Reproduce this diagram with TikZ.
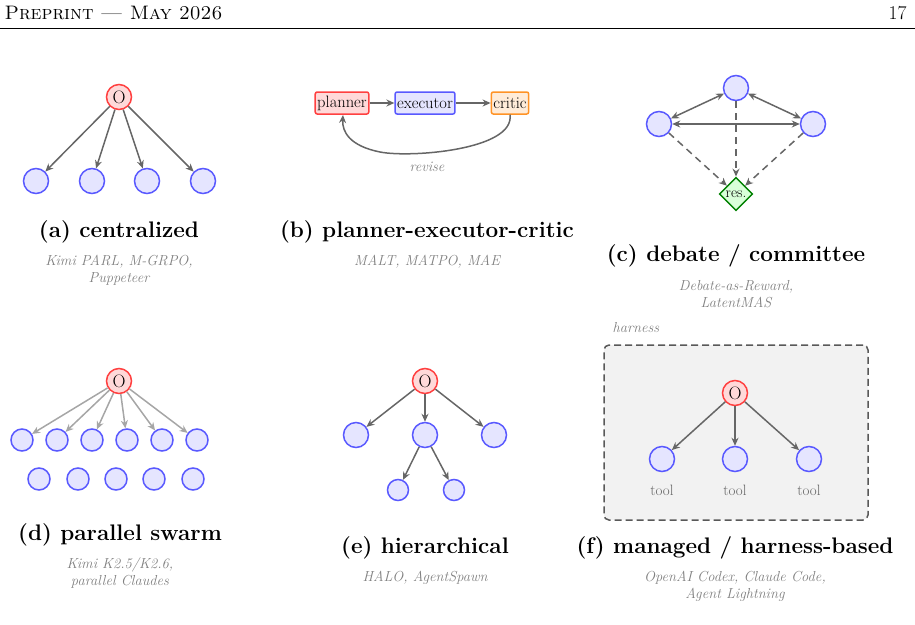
\documentclass[tikz,border=0pt]{standalone}
\usepackage{fontspec}
\usetikzlibrary{shapes.geometric,arrows.meta}
\begin{document}
\begin{tikzpicture}[x=1pt,y=-1pt,
  orch/.style={circle,draw=red!75,fill=red!15,line width=1.5pt,minimum size=25pt,inner sep=0pt,font=\fontsize{18}{18}\selectfont},
  agent/.style={circle,draw=blue!65,fill=blue!10,line width=1.5pt,minimum size=25pt,inner sep=0pt},
  sagent/.style={agent,minimum size=22pt},
  tagent/.style={agent,minimum size=21pt},
  arr/.style={-{Stealth[length=8pt,width=7pt]},draw=black!60,line width=1.5pt},
  larr/.style={arr,draw=black!35},
  box/.style={draw,rounded corners=2pt,line width=1.5pt,minimum height=22pt,inner sep=2pt,font=\fontsize{16.5}{16.5}\selectfont},
  captxt/.style={font=\fontsize{22.5}{22.5}\selectfont\bfseries},
  sub/.style={font=\fontsize{14.5}{17}\selectfont\itshape,text=black!50,align=center}]
\useasboundingbox (0,0) rectangle (915,624);
\node[anchor=west,font=\fontsize{19.5}{19.5}\selectfont\scshape] (hl) at (1,13) {Preprint --- May 2026};
\node[anchor=east,font=\fontsize{19.5}{19.5}\selectfont] (hr) at (910,13) {17};
\draw[line width=0.6pt] (0,28) -- (915,28);
% (a)
\node[orch] (ao) at (119,97) {O};
\foreach \x/\n in {36/1,92/2,147/3,203/4}{\node[agent] (a\n) at (\x,181) {}; \draw[arr] (ao) -- (a\n);}
\node[captxt] (acap) at (119,232) {(a) centralized};
\node[sub] (asub) at (119,270) {Kimi PARL, M-GRPO,\\Puppeteer};
% (b)
\node[box,draw=red!75,fill=red!15] (pl) at (342,103) {planner};
\node[box,draw=blue!65,fill=blue!10] (ex) at (425,103) {executor};
\node[box,draw=orange!85,fill=orange!15] (cr) at (510,103) {critic};
\draw[arr] (pl) -- (ex);
\draw[arr] (ex) -- (cr);
\draw[arr] (cr.south) .. controls (515,150) and (410,158) .. (380,152) .. controls (350,146) and (342,132) .. (343,115);
\node[sub] (rev) at (427,167) {revise};
\node[captxt] (bcap) at (427,232) {(b) planner-executor-critic};
\node[sub] (bsub) at (427,262) {MALT, MATPO, MAE};
% (c)
\node[agent] (ct) at (736,88) {};
\node[agent] (cl) at (659,124) {};
\node[agent] (cr2) at (813,124) {};
\node[diamond,draw=green!50!black,fill=green!15,line width=1.5pt,inner sep=1.5pt,font=\fontsize{15}{15}\selectfont] (res) at (736,194) {res.};
\draw[arr,{Stealth[length=8pt,width=7pt]}-{Stealth[length=8pt,width=7pt]}] (cl) -- (ct);
\draw[arr,{Stealth[length=8pt,width=7pt]}-{Stealth[length=8pt,width=7pt]}] (ct) -- (cr2);
\draw[arr,{Stealth[length=8pt,width=7pt]}-{Stealth[length=8pt,width=7pt]}] (cl) -- (cr2);
\draw[arr,dashed,dash pattern=on 7pt off 5pt] (cl) -- (res);
\draw[arr,dashed,dash pattern=on 7pt off 5pt] (ct) -- (res);
\draw[arr,dashed,dash pattern=on 7pt off 5pt] (cr2) -- (res);
\node[captxt] (ccap) at (736,256) {(c) debate / committee};
\node[sub] (csub) at (736,294) {Debate-as-Reward,\\LatentMAS};
% (d)
\node[orch] (do) at (119,381) {O};
\foreach \x/\n in {22/1,57/2,92/3,127/4,162/5,197/6}{\node[sagent] (d\n) at (\x,440) {}; \draw[larr] (do) -- (d\n);}
\foreach \x/\n in {39/1,78/2,116/3,154/4,193/5}{\node[sagent] (e\n) at (\x,479) {};}
\node[captxt] (dcap) at (120,535) {(d) parallel swarm};
\node[sub] (dsub) at (120,573) {Kimi K2.5/K2.6,\\parallel Claudes};
% (e)
\node[orch] (eo) at (425,381) {O};
\node[agent] (e1x) at (356,435) {};
\node[agent] (e2x) at (425,435) {};
\node[agent] (e3x) at (494,435) {};
\node[tagent] (g1) at (398,490) {};
\node[tagent] (g2) at (454,490) {};
\draw[arr] (eo) -- (e1x); \draw[arr] (eo) -- (e2x); \draw[arr] (eo) -- (e3x);
\draw[arr] (e2x) -- (g1); \draw[arr] (e2x) -- (g2);
\node[captxt] (ecap) at (425,548) {(e) hierarchical};
\node[sub] (esub) at (425,578) {HALO, AgentSpawn};
% (f)
\node[draw=black!65,dashed,dash pattern=on 7pt off 4pt,line width=1.5pt,fill=black!5,rounded corners=5pt,minimum width=264pt,minimum height=175pt] (hb) at (736,432.5) {};
\node[sub,anchor=west] (hl2) at (609,328) {harness};
\node[orch] (fo) at (735,393) {O};
\foreach \x/\n in {662/1,735/2,809/3}{\node[agent] (f\n) at (\x,459) {}; \draw[arr] (fo) -- (f\n);
 \node[font=\fontsize{15}{15}\selectfont,text=black!60] (t\n) at (\x,490) {tool};}
\node[captxt] (fcap) at (735,548) {(f) managed / harness-based};
\node[sub] (fsub) at (735,586) {OpenAI Codex, Claude Code,\\Agent Lightning};
\end{tikzpicture}
\end{document}
